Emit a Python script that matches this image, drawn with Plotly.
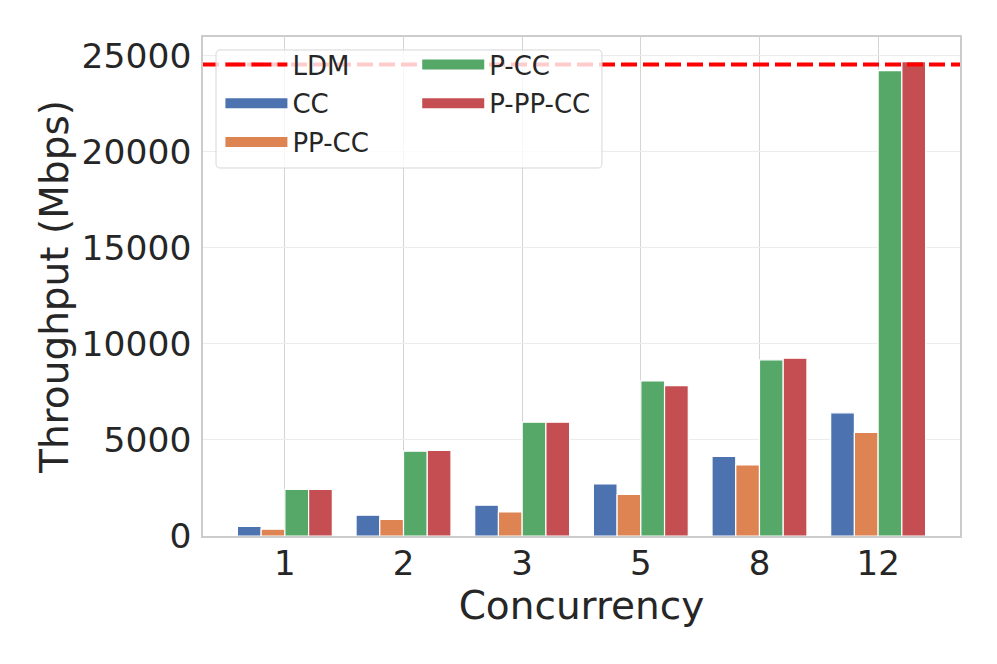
import plotly.graph_objects as go

categories = ["1", "2", "3", "5", "8", "12"]
cc = [505, 1080, 1600, 2710, 4140, 6410]
pp_cc = [350, 870, 1250, 2160, 3700, 5390]
p_cc = [2430, 4410, 5920, 8070, 9170, 24220]
p_pp_cc = [2430, 4450, 5920, 7830, 9255, 24690]
ldm = 24540
y_ticks = [0, 5000, 10000, 15000, 20000, 25000]

series = [
    ("CC", cc, "#4C72B0"),
    ("PP-CC", pp_cc, "#DD8452"),
    ("P-CC", p_cc, "#55A868"),
    ("P-PP-CC", p_pp_cc, "#C44E52"),
]

FONT = "DejaVu Sans"
TXT = "#262626"

fig = go.Figure()
for name, vals, col in series:
    fig.add_trace(go.Bar(
        x=categories, y=vals, name=name, showlegend=False,
        marker=dict(color=col, line=dict(color="white", width=1.2)),
    ))

# LDM reference line
fig.add_shape(type="line", xref="paper", yref="y", x0=0, x1=1, y0=ldm, y1=ldm,
              line=dict(color="#FF0000", width=4, dash="16px,6px"), layer="above")

# Legend background box (rounded)
x0, x1, y0, y1 = 0.0172, 0.527, 0.7375, 0.974
rx, ry = 0.0055, 0.009
path = (f"M{x0+rx},{y0} L{x1-rx},{y0} Q{x1},{y0} {x1},{y0+ry} L{x1},{y1-ry} "
        f"Q{x1},{y1} {x1-rx},{y1} L{x0+rx},{y1} Q{x0},{y1} {x0},{y1-ry} "
        f"L{x0},{y0+ry} Q{x0},{y0} {x0+rx},{y0} Z")
fig.add_shape(type="path", xref="paper", yref="paper", path=path,
              fillcolor="rgba(255,255,255,0.8)", line=dict(color="#d6d6d6", width=1),
              layer="above")

# Legend entries (dummy traces)
fig.add_trace(go.Scatter(x=[None], y=[None], mode="lines", name="LDM",
                         line=dict(color="#FF0000", width=4, dash="20px,6px"),
                         legend="legend", legendgroup="LDM"))
for name, vals, col in series:
    leg = "legend" if name in ("CC", "PP-CC") else "legend2"
    fig.add_trace(go.Scatter(x=[None], y=[None], mode="lines", name=name,
                             line=dict(color=col, width=16),
                             legend=leg, legendgroup=name))

legend_common = dict(
    bgcolor="rgba(0,0,0,0)", borderwidth=0, itemwidth=62,
    font=dict(family=FONT, size=26, color=TXT),
    tracegroupgap=2, orientation="v", xanchor="left", yanchor="top",
    itemclick=False, itemdoubleclick=False,
)

# page body has an 8px default margin, so margins are offset by 8px
fig.update_layout(
    width=997, height=664,
    margin=dict(l=195, r=45, t=29, b=136),
    paper_bgcolor="white", plot_bgcolor="white",
    barmode="group", bargap=0.2, bargroupgap=0.0,
    font=dict(family=FONT, color=TXT),
    legend=dict(x=0.023, y=0.992, **legend_common),
    legend2=dict(x=0.283, y=0.992, **legend_common),
    xaxis=dict(
        type="category", range=[-0.69, 5.69], automargin=False,
        showgrid=True, gridcolor="#d4d4d4", gridwidth=1.3,
        showline=True, linecolor="#cccccc", linewidth=1.5, mirror=True,
        ticks="", ticklabelstandoff=-4,
        tickfont=dict(family=FONT, size=34, color=TXT),
        title=dict(text="Concurrency", font=dict(family=FONT, size=39, color=TXT), standoff=0),
    ),
    yaxis=dict(
        range=[0, 25970], tickvals=y_ticks, tickformat="d", automargin=False,
        showgrid=True, gridcolor="#ececec", gridwidth=1.3,
        showline=True, linecolor="#cccccc", linewidth=1.5, mirror=True,
        zeroline=False, ticklabelstandoff=3,
        ticks="", tickfont=dict(family=FONT, size=34.5, color=TXT),
        title=dict(text="Throughput (Mbps)", font=dict(family=FONT, size=39, color=TXT), standoff=1),
    ),
)

fig.write_html("out.html")
